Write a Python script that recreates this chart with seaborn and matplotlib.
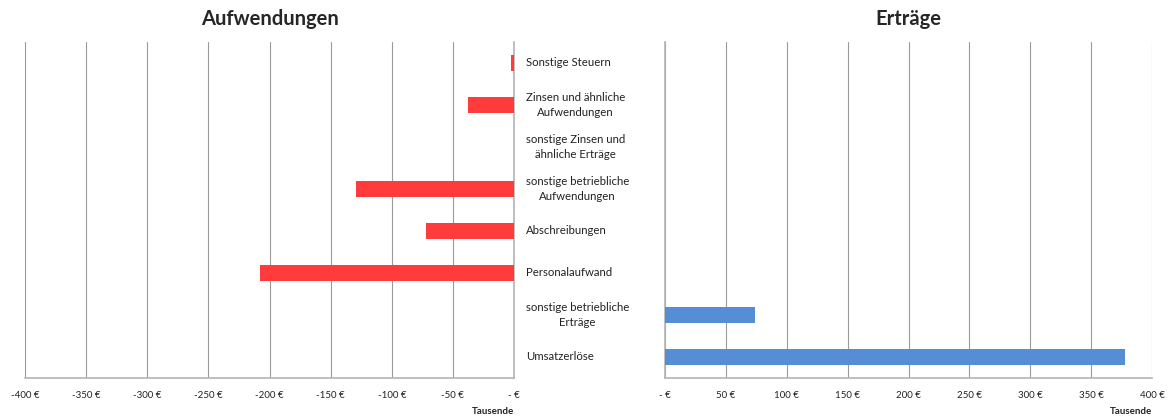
import matplotlib
matplotlib.use("Agg")
import matplotlib.pyplot as plt
import matplotlib.transforms as mtransforms
import seaborn as sns
import pandas as pd

# Categories, listed top to bottom
categories = [
    "Sonstige Steuern",
    "Zinsen und ähnliche\nAufwendungen",
    "sonstige Zinsen und\nähnliche Erträge",
    "sonstige betriebliche\nAufwendungen",
    "Abschreibungen",
    "Personalaufwand",
    "sonstige betriebliche\nErträge",
    "Umsatzerlöse",
]
# Values in thousand euros
aufwendungen = [-2.5, -38, 0, -129, -72, -208, 0, 0]
ertraege = [0, 0, 0, 0, 0, 0, 74, 378]

left_ticks = [-400, -350, -300, -250, -200, -150, -100, -50, 0]
right_ticks = [0, 50, 100, 150, 200, 250, 300, 350, 400]

sns.set_theme(style="white")
plt.rcParams["font.family"] = ["Lato", "DejaVu Sans"]

df = pd.DataFrame({"Kategorie": categories,
                   "Aufwendungen": aufwendungen,
                   "Erträge": ertraege})

fig = plt.figure(figsize=(11.72, 4.18), dpi=100)
ax_l = fig.add_axes([25 / 1172, 1 - 378 / 418, 489 / 1172, 336 / 418])
ax_r = fig.add_axes([665 / 1172, 1 - 378 / 418, 487 / 1172, 336 / 418])

grid_col = "#9a9a9a"
spine_col = "#b4b4b4"


def euro(v):
    return "- €" if v == 0 else f"{int(v)} €"


for ax, col, color, ticks, title in [
    (ax_l, "Aufwendungen", "#ff3b3b", left_ticks, "Aufwendungen"),
    (ax_r, "Erträge", "#558ed5", right_ticks, "Erträge"),
]:
    sns.barplot(data=df, x=col, y="Kategorie", order=categories, orient="h",
                color=color, saturation=1, width=0.4, linewidth=0,
                ax=ax, zorder=3)
    ax.set_xlim(min(ticks), max(ticks))
    ax.set_ylim(len(categories) - 0.5, -0.5)
    ax.set_xticks(ticks)
    ax.set_xticklabels([euro(t) for t in ticks], fontsize=7)
    ax.tick_params(axis="x", length=0, pad=9, colors="#222222")
    ax.set_yticks([])
    ax.set_xlabel("")
    ax.set_ylabel("")
    ax.grid(axis="x", color=grid_col, linewidth=0.8, zorder=0)
    for s in ax.spines.values():
        s.set_visible(False)
    ax.spines["bottom"].set_visible(True)
    ax.spines["bottom"].set_color(spine_col)
    ax.spines["bottom"].set_linewidth(1.2)
    ax.set_title(title, fontsize=14.5, fontweight="bold", pad=12)
    ax.text(max(ticks), -0.085, "Tausende",
            transform=mtransforms.blended_transform_factory(ax.transData, ax.transAxes),
            ha="right", va="top",
            fontsize=7, fontweight="bold", color="#222222")

ax_l.spines["right"].set_visible(True)
ax_l.spines["right"].set_color(spine_col)
ax_l.spines["right"].set_linewidth(1.2)
ax_r.spines["left"].set_visible(True)
ax_r.spines["left"].set_color(spine_col)
ax_r.spines["left"].set_linewidth(1.2)

# Category labels in the gap between the two panels
trans = mtransforms.blended_transform_factory(fig.transFigure, ax_r.transData)
for i, name in enumerate(categories):
    fig.text(526 / 1172, i, name, transform=trans, ha="left", va="center",
             multialignment="center", fontsize=8.2, color="#222222",
             linespacing=1.45)

fig.savefig("out.png", dpi=100)
